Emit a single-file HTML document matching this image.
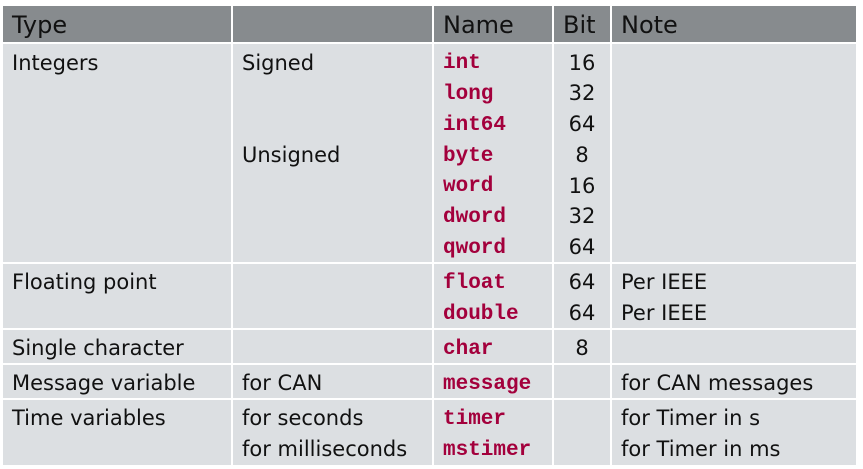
<!DOCTYPE html>
<html><head><style>
body{margin:0;width:863px;height:469px;background:#fff;position:relative;font-family:"DejaVu Sans","Liberation Sans",sans-serif;font-size:21px;color:#111;}
.c{position:absolute;background:#dcdfe2;}
.h{position:absolute;background:#878b8e;}
.t{position:absolute;line-height:24px;white-space:nowrap;}
.m{font-family:"Liberation Mono",monospace;font-weight:bold;color:#a3003c;font-size:21px;margin-top:2px;}
.b{width:58px;text-align:center;}
</style></head><body>
<div class="h" style="left:3px;top:6px;width:228px;height:36px"></div>
<div class="h" style="left:233px;top:6px;width:199px;height:36px"></div>
<div class="h" style="left:434px;top:6px;width:118px;height:36px"></div>
<div class="h" style="left:554px;top:6px;width:56px;height:36px"></div>
<div class="h" style="left:612px;top:6px;width:244px;height:36px"></div>

<div class="c" style="left:3px;top:44px;width:228px;height:218px"></div>
<div class="c" style="left:233px;top:44px;width:199px;height:218px"></div>
<div class="c" style="left:434px;top:44px;width:118px;height:218px"></div>
<div class="c" style="left:554px;top:44px;width:56px;height:218px"></div>
<div class="c" style="left:612px;top:44px;width:244px;height:218px"></div>

<div class="c" style="left:3px;top:264px;width:228px;height:64px"></div>
<div class="c" style="left:233px;top:264px;width:199px;height:64px"></div>
<div class="c" style="left:434px;top:264px;width:118px;height:64px"></div>
<div class="c" style="left:554px;top:264px;width:56px;height:64px"></div>
<div class="c" style="left:612px;top:264px;width:244px;height:64px"></div>

<div class="c" style="left:3px;top:330px;width:228px;height:33px"></div>
<div class="c" style="left:233px;top:330px;width:199px;height:33px"></div>
<div class="c" style="left:434px;top:330px;width:118px;height:33px"></div>
<div class="c" style="left:554px;top:330px;width:56px;height:33px"></div>
<div class="c" style="left:612px;top:330px;width:244px;height:33px"></div>

<div class="c" style="left:3px;top:365px;width:228px;height:33px"></div>
<div class="c" style="left:233px;top:365px;width:199px;height:33px"></div>
<div class="c" style="left:434px;top:365px;width:118px;height:33px"></div>
<div class="c" style="left:554px;top:365px;width:56px;height:33px"></div>
<div class="c" style="left:612px;top:365px;width:244px;height:33px"></div>

<div class="c" style="left:3px;top:400px;width:228px;height:65px"></div>
<div class="c" style="left:233px;top:400px;width:199px;height:65px"></div>
<div class="c" style="left:434px;top:400px;width:118px;height:65px"></div>
<div class="c" style="left:554px;top:400px;width:56px;height:65px"></div>
<div class="c" style="left:612px;top:400px;width:244px;height:65px"></div>

<div class="t" style="left:12px;top:13px;font-size:24px">Type</div>
<div class="t" style="left:443px;top:13px;font-size:24px">Name</div>
<div class="t" style="left:563px;top:13px;font-size:24px">Bit</div>
<div class="t" style="left:621px;top:13px;font-size:24px">Note</div>

<div class="t" style="left:12px;top:51px">Integers</div>
<div class="t" style="left:242px;top:51px">Signed</div>
<div class="t" style="left:242px;top:143px">Unsigned</div>
<div class="t m" style="left:443px;top:50px">int</div>
<div class="t m" style="left:443px;top:81px">long</div>
<div class="t m" style="left:443px;top:112px">int64</div>
<div class="t m" style="left:443px;top:143px">byte</div>
<div class="t m" style="left:443px;top:173px">word</div>
<div class="t m" style="left:443px;top:204px">dword</div>
<div class="t m" style="left:443px;top:235px">qword</div>
<div class="t b" style="left:553px;top:51px">16</div>
<div class="t b" style="left:553px;top:81px">32</div>
<div class="t b" style="left:553px;top:112px">64</div>
<div class="t b" style="left:553px;top:143px">8</div>
<div class="t b" style="left:553px;top:174px">16</div>
<div class="t b" style="left:553px;top:204px">32</div>
<div class="t b" style="left:553px;top:235px">64</div>

<div class="t" style="left:12px;top:270px">Floating point</div>
<div class="t m" style="left:443px;top:270px">float</div>
<div class="t m" style="left:443px;top:301px">double</div>
<div class="t b" style="left:553px;top:270px">64</div>
<div class="t b" style="left:553px;top:301px">64</div>
<div class="t" style="left:621px;top:270px">Per IEEE</div>
<div class="t" style="left:621px;top:301px">Per IEEE</div>

<div class="t" style="left:12px;top:336px">Single character</div>
<div class="t m" style="left:443px;top:336px">char</div>
<div class="t b" style="left:553px;top:336px">8</div>

<div class="t" style="left:12px;top:371px">Message variable</div>
<div class="t" style="left:242px;top:371px">for CAN</div>
<div class="t m" style="left:443px;top:371px">message</div>
<div class="t" style="left:621px;top:371px">for CAN messages</div>

<div class="t" style="left:12px;top:406px">Time variables</div>
<div class="t" style="left:242px;top:406px">for seconds</div>
<div class="t" style="left:242px;top:437px">for milliseconds</div>
<div class="t m" style="left:443px;top:406px">timer</div>
<div class="t m" style="left:443px;top:437px">mstimer</div>
<div class="t" style="left:621px;top:406px">for Timer in s</div>
<div class="t" style="left:621px;top:437px">for Timer in ms</div>
</body></html>
